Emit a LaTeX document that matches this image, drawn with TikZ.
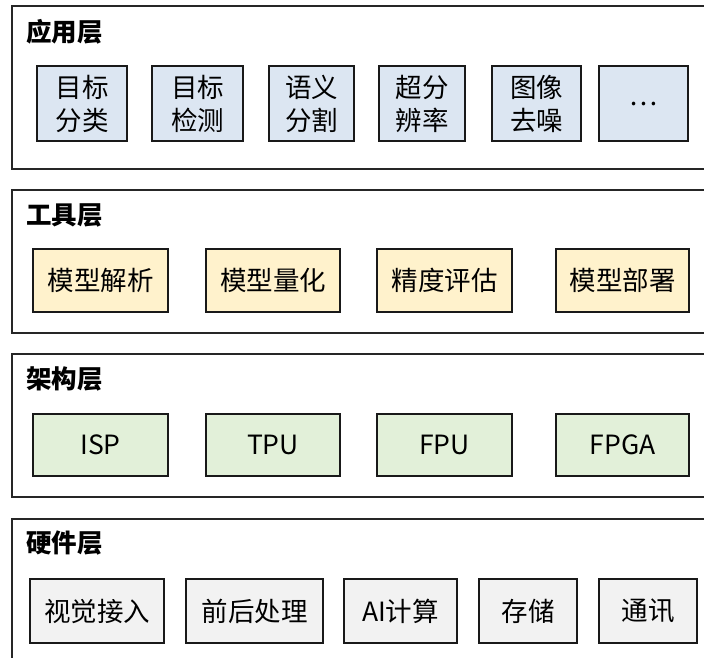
\documentclass[tikz,border=0pt]{standalone}
\usepackage{fontspec}
\setmainfont{Noto Sans CJK SC}
\definecolor{cblue}{HTML}{DCE6F2}
\definecolor{cyellow}{HTML}{FFF2CC}
\definecolor{cgreen}{HTML}{E2F0D9}
\definecolor{cgray}{HTML}{F2F2F2}
\begin{document}
\begin{tikzpicture}[x=1pt,y=-1pt,
  layer/.style={draw=black!85, line width=1.6pt},
  ttl/.style={anchor=west, inner sep=0pt, font=\fontsize{25.5}{30}\selectfont\bfseries},
  box/.style={draw=black!90, line width=1.6pt, inner sep=0pt, align=center,
     font=\fontsize{26.5}{33}\selectfont},
  bb/.style={box, fill=cblue, minimum height=75pt},
  yb/.style={box, fill=cyellow, minimum height=63pt},
  gb/.style={box, fill=cgreen, minimum height=62pt},
  hb/.style={box, fill=cgray, minimum height=64pt}
]
\useasboundingbox (0,0) rectangle (704,657);
\fill[white] (0,0) rectangle (704,657);
\clip (0,0) rectangle (704,657);
% layers
\draw[layer] (12,6) rectangle (730,169);
\draw[layer] (12,190) rectangle (730,333);
\draw[layer] (12,354) rectangle (730,497);
\draw[layer] (12,519) rectangle (730,700);
% titles
\node[ttl] (t1) at (26,32) {应用层};
\node[ttl] (t2) at (26,215) {工具层};
\node[ttl] (t3) at (26,379) {架构层};
\node[ttl] (t4) at (26,543) {硬件层};
% application
\node[bb, minimum width=90pt] (a1) at (82,103.5) {目标\\分类};
\node[bb, minimum width=91pt] (a2) at (197.5,103.5) {目标\\检测};
\node[bb, minimum width=85pt] (a3) at (311.5,103.5) {语义\\分割};
\node[bb, minimum width=86pt] (a4) at (422,103.5) {超分\\辨率};
\node[bb, minimum width=89pt] (a5) at (536.5,103.5) {图像\\去噪};
\node[bb, minimum width=89pt] (a6) at (643.5,103.5) {…};
% tools
\node[yb, minimum width=135pt] (b1) at (100.5,280.5) {模型解析};
\node[yb, minimum width=134pt] (b2) at (273,280.5) {模型量化};
\node[yb, minimum width=135pt] (b3) at (444.5,280.5) {精度评估};
\node[yb, minimum width=133pt] (b4) at (622.5,280.5) {模型部署};
% architecture
\node[gb, minimum width=135pt] (c1) at (100.5,445) {ISP};
\node[gb, minimum width=134pt] (c2) at (273,445) {TPU};
\node[gb, minimum width=135pt] (c3) at (444.5,445) {FPU};
\node[gb, minimum width=133pt] (c4) at (622.5,445) {FPGA};
% hardware
\node[hb, minimum width=134pt] (d1) at (97,611) {视觉接入};
\node[hb, minimum width=137pt] (d2) at (254.5,611) {前后处理};
\node[hb, minimum width=113pt] (d3) at (400.5,611) {AI计算};
\node[hb, minimum width=98pt] (d4) at (528,611) {存储};
\node[hb, minimum width=98pt] (d5) at (648,611) {通讯};
\end{tikzpicture}
\end{document}
